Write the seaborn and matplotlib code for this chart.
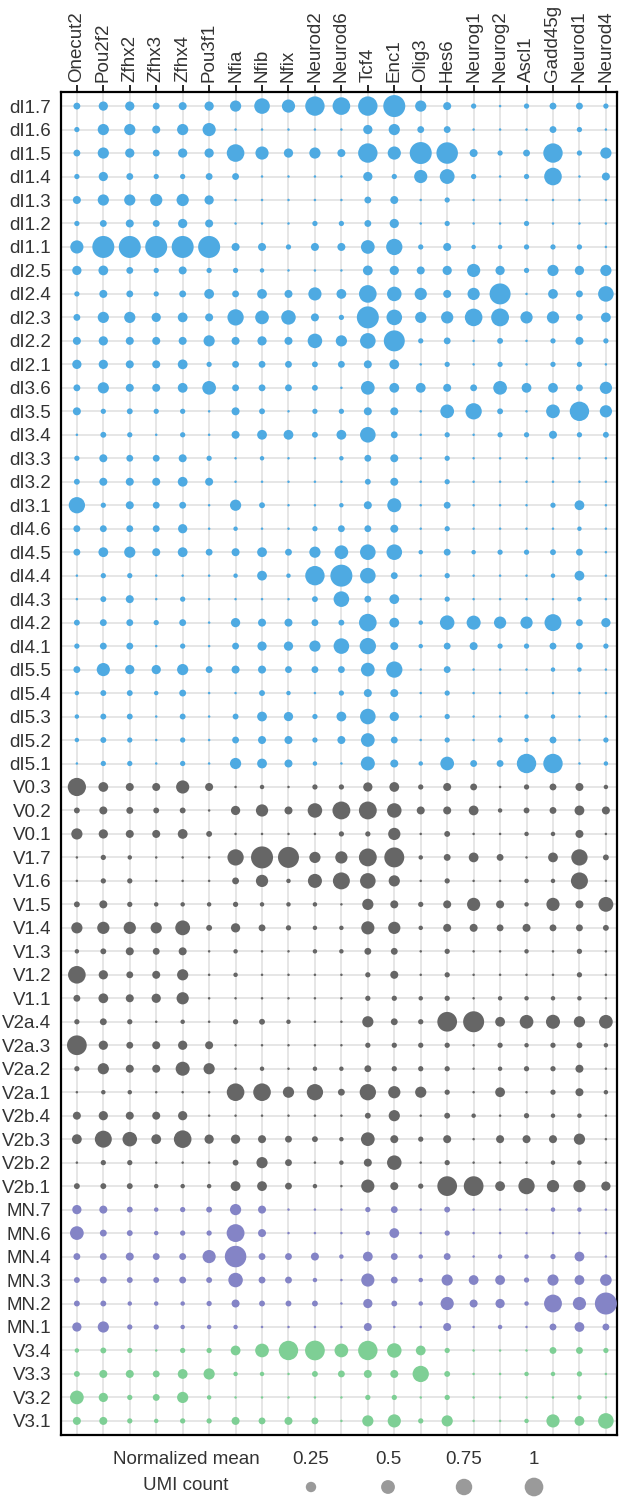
import matplotlib
matplotlib.use("Agg")
import matplotlib.pyplot as plt
import pandas as pd
import seaborn as sns

genes = ["Onecut2", "Pou2f2", "Zfhx2", "Zfhx3", "Zfhx4", "Pou3f1", "Nfia", "Nfib", "Nfix",
         "Neurod2", "Neurod6", "Tcf4", "Enc1", "Olig3", "Hes6", "Neurog1", "Neurog2",
         "Ascl1", "Gadd45g", "Neurod1", "Neurod4"]

# normalized mean UMI count, one row per cluster, columns follow `genes`
di_clusters = ["dI1.7", "dI1.6", "dI1.5", "dI1.4", "dI1.3", "dI1.2", "dI1.1", "dI2.5", "dI2.4",
               "dI2.3", "dI2.2", "dI2.1", "dI3.6", "dI3.5", "dI3.4", "dI3.3", "dI3.2", "dI3.1",
               "dI4.6", "dI4.5", "dI4.4", "dI4.3", "dI4.2", "dI4.1", "dI5.5", "dI5.4", "dI5.3",
               "dI5.2", "dI5.1"]
di_values = [
    [.05, .12, .12, .05, .08, .12, .2, .45, .3, .75, .6, .75, 1, .2, .08, .02, 0, .02, .05, .05, .02],
    [.02, .2, .2, .08, .2, .3, 0, 0, 0, 0, 0, .12, .2, .05, .05, 0, 0, 0, .05, .02, 0],
    [.05, .2, .12, .05, .12, .12, .6, .3, .12, .2, .08, .75, .3, 1, .95, .08, .02, .05, .75, .02, .2],
    [.02, .12, .05, .02, .02, .05, .05, 0, 0, 0, 0, .12, .02, .3, .4, .02, 0, .02, .6, 0, .08],
    [.08, .2, .2, .25, .25, .12, 0, 0, 0, 0, 0, .05, .08, 0, .02, 0, 0, 0, 0, 0, 0],
    [.02, .05, .08, .05, .12, .08, 0, 0, 0, .02, .02, .05, .12, 0, .02, 0, 0, .02, 0, 0, 0],
    [.3, 1, 1, 1, 1, 1, .08, .08, .02, .08, .08, .33, .5, .02, .08, .01, .01, .02, .02, .02, 0],
    [.12, .14, .05, .02, .08, .02, .02, .01, 0, 0, 0, .14, .12, .08, .12, .3, .12, .02, .2, .12, .2],
    [.02, .08, .05, .02, .05, .14, .05, .14, .08, .3, .14, .6, .38, .25, .08, .25, .9, 0, .14, .05, .45],
    [.05, .2, .2, .12, .14, .08, .5, .33, .38, .08, .02, 1, .45, .2, .25, .6, .62, .25, .25, .05, .14],
    [.08, .12, .08, .08, .08, .2, .08, .12, .08, .38, .2, .45, .9, .02, .05, 0, .03, 0, .02, .08, .02],
    [.12, .12, .08, .08, .14, .02, .05, .05, .05, .03, .05, .08, .14, 0, .02, 0, .02, 0, .02, .02, 0],
    [.05, .2, .08, .08, .14, .33, .05, .05, .05, .03, 0, .33, .14, .14, .08, .05, .33, .14, .14, .05, .25],
    [.08, .02, .03, .02, .02, 0, .08, .03, 0, .02, .02, .08, .08, 0, .33, .5, .03, 0, .33, .75, .25],
    [0, .03, .02, 0, .02, 0, .08, .14, .14, .03, .14, .45, .05, 0, .02, 0, .02, .02, .08, .02, .03],
    [.02, .08, .05, .05, .08, .02, 0, .01, 0, 0, .01, .05, .08, 0, .02, 0, 0, 0, 0, 0, 0],
    [.03, .08, .08, .08, .14, .08, 0, 0, 0, 0, 0, .03, .08, 0, .02, 0, 0, 0, 0, 0, 0],
    [.5, .02, .08, .05, .05, 0, .2, .03, 0, 0, .01, .08, .35, 0, .05, 0, 0, 0, .02, .14, 0],
    [.05, .05, .05, .05, .12, 0, .01, 0, 0, .02, .05, .05, .08, 0, .02, 0, 0, 0, 0, .01, 0],
    [.05, .14, .2, .08, .14, .05, .08, .14, .05, .2, .33, .45, .45, .01, .05, .01, .02, .02, .03, .05, 0],
    [0, .02, .02, 0, 0, 0, .01, .14, .01, .75, 1, .45, .05, 0, .02, 0, 0, 0, .01, .14, 0],
    [0, .03, .08, 0, .02, 0, 0, 0, 0, .03, .45, .05, .14, 0, .02, 0, 0, 0, 0, .01, 0],
    [.03, .05, .05, .02, .05, 0, .12, .08, .08, .05, .03, .6, .14, .01, .38, .35, .25, .25, .55, .05, .12],
    [.02, .05, .05, 0, .02, 0, .05, .12, .12, .2, .45, .5, .08, .01, .05, .08, .02, .02, .05, .05, .02],
    [.05, .3, .12, .12, .2, .05, .08, .08, .05, .05, .05, .33, .5, 0, .05, 0, 0, 0, .01, .01, 0],
    [.01, .03, .03, .01, .05, 0, 0, .03, .01, 0, .02, .08, .08, 0, .02, 0, 0, 0, 0, 0, 0],
    [.01, .03, .03, 0, .03, 0, .03, .14, .12, .02, .14, .45, .12, 0, .02, 0, 0, .01, .01, 0, 0],
    [.01, .03, .02, 0, .02, 0, .05, .08, .08, .02, .08, .33, .05, 0, .02, 0, .02, .01, .05, 0, .02],
    [0, .02, .02, 0, .02, 0, .2, .14, .08, .01, 0, .35, .08, .01, .33, .05, .05, .75, .75, 0, .01],
]

v_clusters = ["V0.3", "V0.2", "V0.1", "V1.7", "V1.6", "V1.5", "V1.4", "V1.3", "V1.2", "V1.1",
              "V2a.4", "V2a.3", "V2a.2", "V2a.1", "V2b.4", "V2b.3", "V2b.2", "V2b.1"]
v_values = [
    [.65, .14, .08, .08, .3, .08, 0, .01, 0, .02, .02, .12, .14, .02, .08, .05, 0, .02, .05, .08, .01],
    [.03, .08, .05, .03, .03, 0, .12, .25, .08, .38, .62, .62, .38, .08, .08, .14, .01, .03, .05, .14, .08],
    [.2, .12, .08, .08, .14, .03, 0, 0, 0, 0, .02, .02, .25, 0, .03, 0, 0, .01, .01, .08, 0],
    [0, .02, .01, 0, 0, 0, .5, 1, .9, .2, .25, .62, .8, .01, .05, .14, .05, 0, .14, .5, .03],
    [0, .02, .02, 0, 0, 0, .05, .25, .01, .35, .55, .45, .2, 0, .02, 0, 0, .01, .01, .55, 0],
    [.03, .08, .02, .01, .01, .01, .02, .01, .01, .01, 0, .2, .08, .02, .08, .3, .08, .01, .3, .08, .4],
    [.2, .25, .25, .2, .4, .03, .12, .05, .02, .01, .01, .3, .25, .01, .08, .08, .05, .08, .05, .05, .03],
    [.01, .03, .08, .05, .08, 0, .01, 0, 0, .01, .01, .05, .05, 0, .02, 0, 0, .01, 0, .02, 0],
    [.6, .12, .05, .08, .2, 0, .01, 0, 0, 0, 0, .02, .08, 0, .02, 0, 0, 0, 0, .02, 0],
    [.05, .14, .08, .12, .25, 0, 0, 0, 0, 0, 0, .02, .02, .01, .02, 0, .01, .01, .01, .01, 0],
    [.02, .05, .02, 0, .01, 0, .02, .03, .01, 0, 0, .2, .05, .02, .78, .9, .14, .33, .35, .2, .33],
    [.78, .12, .05, .08, .12, .08, 0, 0, 0, 0, 0, .02, .02, .02, .02, 0, .02, .01, .02, .03, .01],
    [.02, .2, .08, .08, .35, .2, 0, .01, 0, .01, .01, .05, .02, .02, .02, 0, .01, .02, .02, .08, 0],
    [0, .01, .01, 0, 0, 0, .6, .6, .2, .5, .05, .5, .25, .2, .02, 0, .14, 0, .02, .08, .01],
    [.08, .12, .08, .08, .12, 0, 0, 0, 0, 0, 0, .03, .2, 0, .03, .01, 0, .02, .01, .01, 0],
    [.14, .55, .38, .14, .6, .12, .12, .08, .05, .03, .01, .33, .08, .02, .08, 0, .08, .08, .08, .2, 0],
    [0, .02, .02, 0, 0, 0, .03, .2, .05, 0, .01, .08, .38, 0, .02, 0, 0, 0, .01, .01, 0],
    [.03, .03, .03, .01, .01, .01, .14, .14, .05, .01, 0, .3, .08, .02, .78, .78, .14, .5, .25, .25, .12],
]

mn_clusters = ["MN.7", "MN.6", "MN.4", "MN.3", "MN.2", "MN.1"]
mn_values = [
    [.12, .08, .03, .01, .02, .03, .2, .08, 0, 0, 0, .02, .05, 0, .03, 0, 0, 0, .01, .01, 0],
    [.33, .05, .03, .01, .02, .02, .62, .08, 0, 0, 0, .01, .14, 0, .02, 0, 0, 0, 0, 0, 0],
    [.05, .05, .08, .05, .05, .3, .95, .05, .05, .08, .01, .14, .05, .01, .05, 0, .01, .01, .02, .14, 0],
    [.03, .05, .03, .03, .05, .03, .38, .05, .05, .01, 0, .3, .05, .01, .2, .14, .14, .02, .2, .14, .22],
    [.03, .03, .01, .01, .01, .02, .08, .03, .03, .03, 0, .12, .03, .01, .3, .08, .12, .01, .62, .3, 1],
    [.12, .2, .02, .02, .01, .01, .01, 0, 0, 0, 0, .08, 0, 0, .08, 0, .01, 0, .05, .14, .05],
]

v3_clusters = ["V3.4", "V3.3", "V3.2", "V3.1"]
v3_values = [
    [.01, .03, .02, 0, .02, .02, .14, .33, .75, .78, .33, .75, .38, .14, .02, 0, 0, 0, .05, .05, .02],
    [.03, .08, .08, .05, .14, .2, .01, .01, 0, .03, .05, .08, .08, .5, .03, 0, 0, .01, .01, .02, 0],
    [.33, .12, .02, .05, .2, .01, 0, 0, 0, 0, 0, .02, .02, 0, .02, 0, 0, 0, 0, .01, 0],
    [.08, .08, .02, .01, .02, .02, .08, .05, .08, .05, 0, .2, .3, .02, .2, 0, 0, .01, .3, .14, .45],
]

legend_levels = [0.25, 0.5, 0.75, 1]
legend_labels = ["0.25", "0.5", "0.75", "1"]

group_colors = {"dI": "#4eaae2", "V": "#666666", "MN": "#8484c6", "V3": "#7ecf95"}

rows = []
for grp, clusters, values in [("dI", di_clusters, di_values), ("V", v_clusters, v_values),
                              ("MN", mn_clusters, mn_values), ("V3", v3_clusters, v3_values)]:
    for cl, vals in zip(clusters, values):
        for g, v in zip(genes, vals):
            rows.append({"cluster": cl, "gene": g, "value": v, "group": grp})
df = pd.DataFrame(rows)
n_rows = df["cluster"].nunique()


def dot_area(v):
    # diameter grows with sqrt of the value, with a small floor (like ggplot's scale_size)
    d_px = 2.5 + 19.5 * v ** 0.5
    return (d_px * 0.72) ** 2


sns.set_style("white")
plt.rcParams["font.family"] = ["Liberation Sans", "DejaVu Sans"]

W, H = 623, 1499
fig = plt.figure(figsize=(W / 100, H / 100), dpi=100)
ax = fig.add_axes([61 / W, 1 - 1435 / H, (617 - 61) / W, (1435 - 92) / H])

sizes = {v: dot_area(v) for v in df["value"].unique()}
sns.scatterplot(data=df, x="gene", y="cluster", size="value", sizes=sizes, hue="group",
                palette=group_colors, linewidth=0, legend=False, ax=ax, zorder=3)

ax.set_xlim(-0.6, len(genes) - 0.58)
ax.set_ylim(n_rows - 0.4, -0.6)
ax.set_xticks(range(len(genes)))
ax.set_xticklabels(genes, rotation=90)
ax.xaxis.tick_top()
ax.set_xlabel("")
ax.set_ylabel("")
ax.set_axisbelow(True)
ax.grid(True, color="#e6e6e6", lw=1.4)
ax.tick_params(axis="both", direction="out", length=5, width=1.2, color="black",
               labelsize=13.5, labelcolor="#333333", pad=2)
for sp in ax.spines.values():
    sp.set_visible(True)
    sp.set_color("black")
    sp.set_linewidth(1.6)

# size legend below the panel, drawn in pixel coordinates
lax = fig.add_axes([0, 0, 1, 64 / H])
leg = pd.DataFrame({"x": [311, 388, 464, 534], "y": [1487] * 4, "value": legend_levels})
sns.scatterplot(data=leg, x="x", y="y", size="value",
                sizes={v: dot_area(v) * 0.72 for v in legend_levels},
                color="#9a9a9a", linewidth=0, legend=False, ax=lax)
lax.set_xlim(0, W)
lax.set_ylim(H, H - 64)
lax.axis("off")
lax.text(186, 1460, "Normalized mean", ha="center", va="center", fontsize=13.5, color="#333333")
lax.text(186, 1485, "UMI count", ha="center", va="center", fontsize=13.5, color="#333333")
for xv, lab in zip(leg["x"], legend_labels):
    lax.text(xv, 1460, lab, ha="center", va="center", fontsize=13.5, color="#333333")

fig.savefig("out.png", dpi=100)
